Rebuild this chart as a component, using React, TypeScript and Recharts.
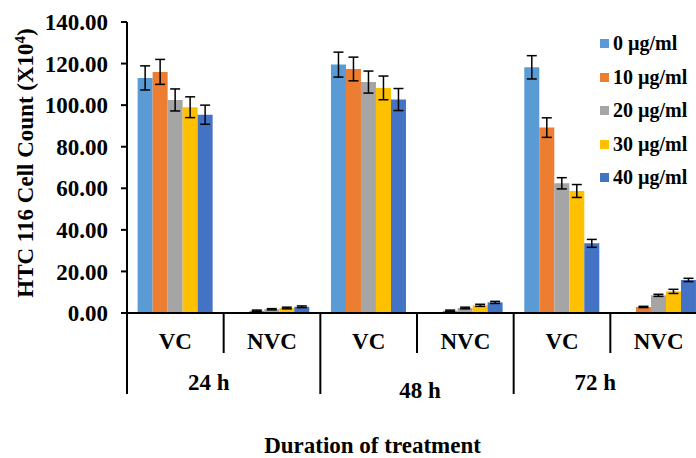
import React from 'react';
import { BarChart, Bar, XAxis, YAxis, ErrorBar, Customized } from 'recharts';

const timepoints = ['24 h', '48 h', '72 h'];
const groups = ['VC', 'NVC'];
const seriesNames = ['0 µg/ml', '10 µg/ml', '20 µg/ml', '30 µg/ml', '40 µg/ml'];
const seriesColors = ['#5B9BD5', '#ED7D31', '#A5A5A5', '#FFC000', '#4472C4'];

const s0 = [113.1, 0, 119.5, 0, 118.2, 0];
const s10 = [116.0, 1.1, 117.4, 1.1, 89.2, 2.9];
const s20 = [102.5, 1.8, 111.1, 2.4, 62.4, 8.5];
const s30 = [99.0, 2.4, 108.3, 3.7, 58.7, 10.4];
const s40 = [95.4, 3.0, 102.7, 5.1, 33.5, 15.9];

const e0 = [5.8, 0, 6.0, 0, 5.6, 0];
const e10 = [6.0, 0.3, 5.7, 0.3, 4.7, 0.3];
const e20 = [5.3, 0.3, 5.3, 0.4, 2.7, 0.5];
const e30 = [5.0, 0.4, 5.7, 0.5, 3.1, 1.0];
const e40 = [4.6, 0.4, 5.3, 0.5, 1.9, 0.8];

const yTicks = [0, 20, 40, 60, 80, 100, 120, 140];

const seriesValues = [s0, s10, s20, s30, s40];
const seriesErrors = [e0, e10, e20, e30, e40];

const data = timepoints.flatMap((t, ti) =>
  groups.map((g, gi) => {
    const idx = ti * groups.length + gi;
    const row: any = { key: `${t}|${g}` };
    seriesValues.forEach((arr, si) => {
      row[`v${si}`] = arr[idx];
      row[`e${si}`] = seriesErrors[si][idx];
    });
    return row;
  })
);

const FONT = '"Liberation Serif", "Times New Roman", serif';

const groupDx = [-15, 3, -15];
const groupDy = [0, 8, 0];

function MultiTick(props: any) {
  const { x, y, payload, visibleTicksCount, width } = props;
  const i: number = payload && payload.index != null ? payload.index : props.index;
  const half: number =
    payload && payload.offset ? payload.offset : width / (visibleTicksCount || 6) / 2;
  const left = x - half;
  const isStart = i % groups.length === 0;
  const last = data.length - 1;
  const ti = Math.floor(i / groups.length);
  return (
    <g>
      <line x1={left} x2={left} y1={y} y2={y + (isStart ? 81 : 40)} stroke="#000" strokeWidth={2} />
      {i === last && (
        <line x1={x + half} x2={x + half} y1={y} y2={y + 81} stroke="#000" strokeWidth={2} />
      )}
      <text
        x={x}
        y={y + 36}
        textAnchor="middle"
        fontFamily={FONT}
        fontWeight={700}
        fontSize={23}
        fill="#000"
      >
        {groups[i % groups.length]}
      </text>
      {isStart && (
        <text
          x={x + half + groupDx[ti]}
          y={y + 77 + groupDy[ti]}
          textAnchor="middle"
          fontFamily={FONT}
          fontWeight={700}
          fontSize={23}
          fill="#000"
        >
          {timepoints[ti]}
        </text>
      )}
    </g>
  );
}

function Titles() {
  return (
    <g>
      <text
        x={33}
        y={163}
        transform="rotate(-90, 33, 163)"
        textAnchor="middle"
        fontFamily={FONT}
        fontWeight={700}
        fontSize={23}
        fill="#000"
      >
        HTC 116 Cell Count (X10
        <tspan fontSize={15} dy={-8}>4</tspan>
        <tspan dy={8}>)</tspan>
      </text>
      <text
        x={372.5}
        y={453}
        textAnchor="middle"
        fontFamily={FONT}
        fontWeight={700}
        fontSize={23}
        fill="#000"
      >
        Duration of treatment
      </text>
    </g>
  );
}

export default function App() {
  return (
    <div
      style={{
        position: 'absolute',
        left: 0,
        top: 0,
        width: 696,
        height: 458,
        overflow: 'hidden',
        background: '#fff',
      }}
    >
      <BarChart
        width={708}
        height={458}
        data={data}
        margin={{ top: 22, right: 1, bottom: 0, left: 0 }}
        barCategoryGap="11%"
        barGap={0}
      >
        <XAxis
          dataKey="key"
          height={145}
          interval={0}
          tickLine={false}
          tickSize={0}
          tickMargin={0}
          axisLine={{ stroke: '#000', strokeWidth: 2 }}
          tick={<MultiTick />}
        />
        <YAxis
          width={127}
          domain={[0, 140]}
          ticks={yTicks}
          interval={0}
          tickFormatter={(v: number) => v.toFixed(2)}
          axisLine={{ stroke: '#000', strokeWidth: 2 }}
          tickLine={{ stroke: '#000', strokeWidth: 2 }}
          tickSize={6}
          tickMargin={13}
          tick={{ fill: '#000', fontSize: 23, fontWeight: 700, fontFamily: FONT }}
        />
        {seriesNames.map((name, si) => (
          <Bar
            key={name}
            name={name}
            dataKey={`v${si}`}
            fill={seriesColors[si]}
            isAnimationActive={false}
          >
            <ErrorBar dataKey={`e${si}`} width={5} stroke="#000" strokeWidth={1.5} />
          </Bar>
        ))}
        <Customized component={Titles} />
      </BarChart>
      <div
        style={{
          position: 'absolute',
          left: 600,
          top: 27,
          fontFamily: FONT,
          fontWeight: 700,
          fontSize: 20,
          color: '#000',
        }}
      >
        {seriesNames.map((name, si) => (
          <div key={name} style={{ height: 33.5, display: 'flex', alignItems: 'center' }}>
            <span
              style={{
                display: 'inline-block',
                width: 9,
                height: 9,
                background: seriesColors[si],
                marginRight: 4,
              }}
            />
            <span style={{ whiteSpace: 'nowrap' }}>{name}</span>
          </div>
        ))}
      </div>
    </div>
  );
}
